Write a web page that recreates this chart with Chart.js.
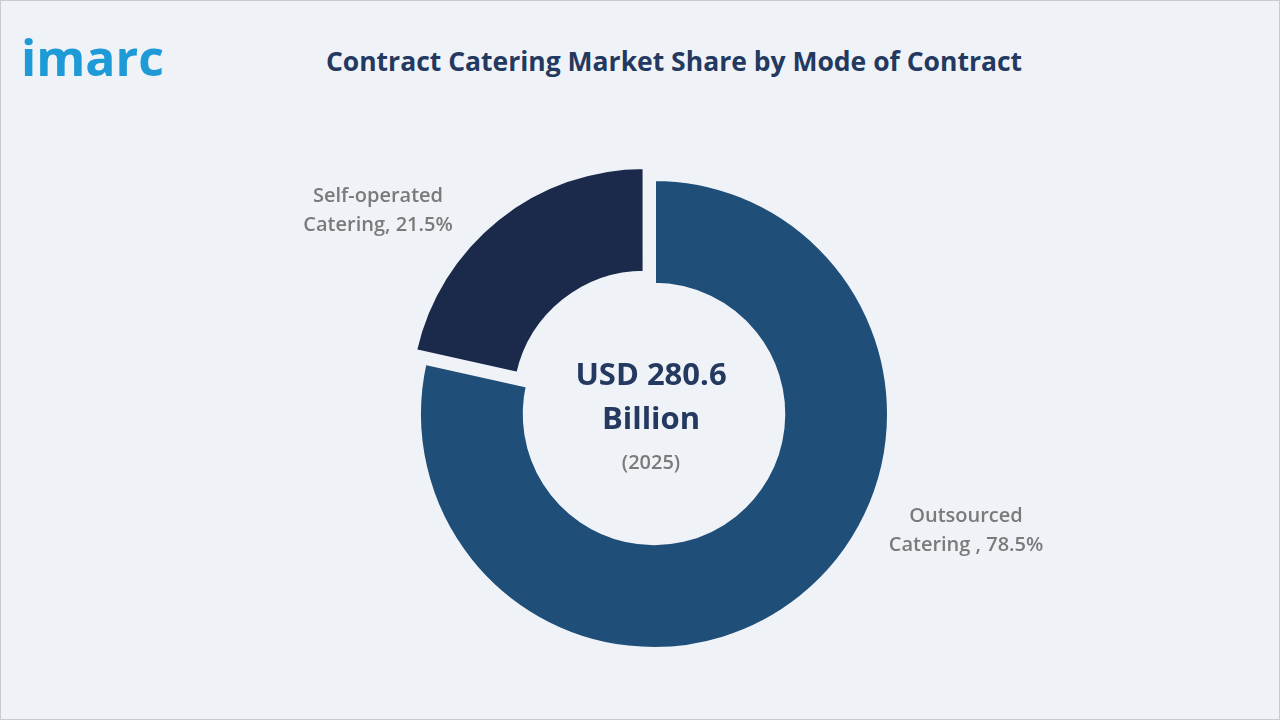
<!DOCTYPE html>
<html>
<head>
<meta charset="utf-8">
<script src="https://cdn.jsdelivr.net/npm/chart.js@4"></script>
<style>
	body { margin: 0; background: #fff; font-family: 'Open Sans', 'Noto Sans', sans-serif; }
	#wrap { position: relative; width: 1278px; height: 718px; border: 1px solid #c8ccd2; background: #eff3f8; overflow: hidden; }
	#logo { position: absolute; left: 20px; top: 22px; font: 700 50px 'Open Sans', sans-serif; color: #1e9ad6; letter-spacing: 0px; }
	#title { position: absolute; left: 0; width: 1346px; top: 42px; text-align: center; font: bold 26.5px 'Open Sans', sans-serif; color: #24395f; }
	canvas { position: absolute; left: 0; top: 0; }
</style>
</head>
<body>
<div id="wrap">
	<div id="logo">imarc</div>
	<div id="title">Contract Catering Market Share by Mode of Contract</div>
	<canvas id="pie" width="1278" height="718"></canvas>
</div>
<script>
const categories = ['Outsourced|Catering , 78.5%', 'Self-operated|Catering, 21.5%']
const shares = [78.5, 21.5]
const colors = ['#1f4e78', '#1b2a4a']
const offsets = [0, 60]
const centerText = ['USD 280.6', 'Billion', '(2025)']
// смещение подписей от центра
const labelShift = [[312, 117], [-276, -203]]

const labelPlugin = {
	id: 'labels',
	afterDraw(chart) {
		const ctx = chart.ctx
		const arcs = chart.getDatasetMeta(0).data
		const a = arcs[0]
		ctx.save()
		ctx.textAlign = 'center'
		ctx.textBaseline = 'middle'
		arcs.forEach((arc, i) => {
			const x = a.x + labelShift[i][0]
			const y = a.y + labelShift[i][1]
			ctx.fillStyle = '#7a7a7a'
			ctx.font = '600 20px "Open Sans", sans-serif'
			categories[i].split('|').forEach((t, j) => ctx.fillText(t, x, y + (j - 0.5) * 29))
		})
		ctx.fillStyle = '#24395f'
		ctx.font = 'bold 31px "Open Sans", sans-serif'
		ctx.fillText(centerText[0], a.x - 3, a.y - 38)
		ctx.fillText(centerText[1], a.x - 3, a.y + 6)
		ctx.fillStyle = '#7a7a7a'
		ctx.font = '600 20px "Open Sans", sans-serif'
		ctx.fillText(centerText[2], a.x - 3, a.y + 49)
		ctx.restore()
	}
}

new Chart(document.getElementById('pie'), {
	type: 'doughnut',
	data: {
		labels: categories,
		datasets: [{
			data: shares,
			backgroundColor: colors,
			borderColor: '#eff3f8',
			borderWidth: 4,
			offset: offsets,
		}],
	},
	options: {
		responsive: false,
		animation: false,
		cutout: '55%',
		layout: { padding: { left: 386, right: 358, top: 145, bottom: 37 } },
		plugins: { legend: { display: false }, tooltip: { enabled: false } },
	},
	plugins: [labelPlugin],
})
</script>
</body>
</html>
